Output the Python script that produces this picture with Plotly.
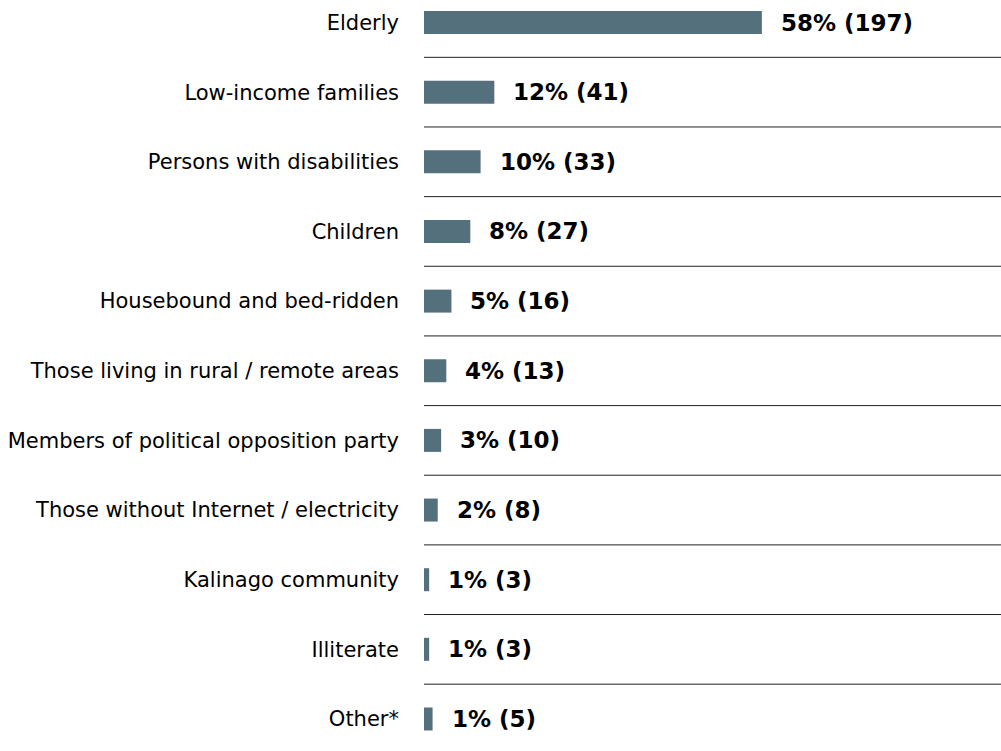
import plotly.graph_objects as go

# Groups seen as most affected, with share of respondents and respondent counts
groups = [
    "Elderly",
    "Low-income families",
    "Persons with disabilities",
    "Children",
    "Housebound and bed-ridden",
    "Those living in rural / remote areas",
    "Members of political opposition party",
    "Those without Internet / electricity",
    "Kalinago community",
    "Illiterate",
    "Other*",
]
percent = [58, 12, 10, 8, 5, 4, 3, 2, 1, 1, 1]
counts = [197, 41, 33, 27, 16, 13, 10, 8, 3, 3, 5]

BAR_COLOR = "#55707d"
W, H = 1001, 751
LEFT = 424
PX_PER_COUNT = 1.715
ROW_PX = 69.65
FIRST_ROW_PX = 22.5

fig = go.Figure(
    go.Bar(
        x=counts,
        y=groups,
        orientation="h",
        marker=dict(color=BAR_COLOR, line=dict(width=0)),
        width=0.33,
        hoverinfo="skip",
    )
)

# Bold value labels just past the end of each bar
for g, p, c in zip(groups, percent, counts):
    fig.add_annotation(
        x=c, y=g, xref="x", yref="y",
        text=f"<b>{p}% ({c})</b>",
        showarrow=False, xanchor="left", yanchor="middle",
        xshift=17,
        font=dict(family="DejaVu Sans", size=23, color="#000000"),
    )

# Thin rules separating the rows
for i in range(len(groups) - 1):
    fig.add_shape(
        type="line", xref="paper", yref="y",
        x0=0, x1=1, y0=i + 0.5, y1=i + 0.5,
        line=dict(color="#222222", width=1),
    )

top = -FIRST_ROW_PX / ROW_PX
bottom = (H - FIRST_ROW_PX) / ROW_PX

fig.update_layout(
    width=W, height=H,
    margin=dict(l=LEFT, r=0, t=0, b=0, pad=0),
    plot_bgcolor="white", paper_bgcolor="white",
    showlegend=False,
    xaxis=dict(visible=False, range=[0, (W - LEFT) / PX_PER_COUNT]),
    yaxis=dict(
        type="category",
        categoryorder="array", categoryarray=groups,
        range=[bottom, top],
        showgrid=False, zeroline=False, showline=False,
        ticks="", ticklabelstandoff=24,
        tickfont=dict(family="DejaVu Sans", size=21, color="#000000"),
    ),
)

fig.write_html("out.html")
